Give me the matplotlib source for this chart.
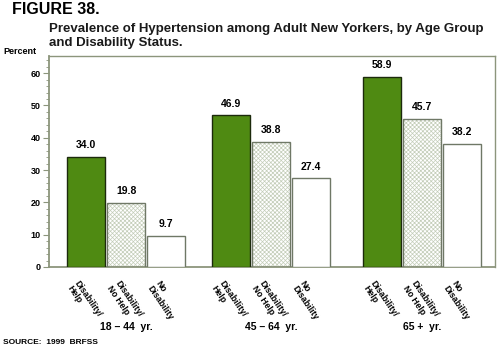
import matplotlib
matplotlib.use('Agg')
import matplotlib.pyplot as plt
from matplotlib.ticker import MultipleLocator
from matplotlib.transforms import blended_transform_factory

plt.rcParams['font.family'] = ['Liberation Sans', 'DejaVu Sans']
plt.rcParams['font.weight'] = 'bold'
plt.rcParams['hatch.linewidth'] = 0.5

groups = ['18 \u2013 44  yr.', '45 \u2013 64  yr.', '65 +  yr.']
categories = ['Disability/\nHelp', 'Disability/\nNo Help', 'No\nDisability']
help_vals = [34.0, 46.9, 58.9]
nohelp_vals = [19.8, 38.8, 45.7]
nodis_vals = [9.7, 27.4, 38.2]

GREEN = '#4f8a12'
HATCH = '#c3cdb8'
EDGE = '#6f7866'
SPINE = '#8c957c'

W, H = 500, 347
fig = plt.figure(figsize=(W / 100, H / 100), dpi=100)
ax = fig.add_axes([49 / W, 1 - 267 / H, (495 - 49) / W, (267 - 56) / H])

centers = [2.03, 5.84, 9.82]
step = 1.06
offsets = [-step, 0, step]
all_vals = [help_vals, nohelp_vals, nodis_vals]

for i, (vals, off) in enumerate(zip(all_vals, offsets)):
    xs = [c + off for c in centers]
    if i == 0:
        ax.bar(xs, vals, width=1.0, color=GREEN, edgecolor='#1c2a0c',
               linewidth=1.0, zorder=3)
    elif i == 1:
        ax.bar(xs, vals, width=1.0, color='white', edgecolor=HATCH,
               hatch='xxxxxxxx', linewidth=0, zorder=2)
        ax.bar(xs, vals, width=1.0, color='none', edgecolor=EDGE,
               linewidth=1.0, zorder=3)
    else:
        ax.bar(xs, vals, width=1.0, color='white', edgecolor=EDGE,
               linewidth=1.0, zorder=3)
    for x, v in zip(xs, vals):
        ax.annotate(f'{v:.1f}', (x, v), xytext=(0, 5), textcoords='offset points',
                    ha='center', va='bottom', fontsize=7.5, fontweight='bold')
        ax.text(x - 0.15, -0.055, categories[i], transform=ax.get_xaxis_transform(),
                rotation=-56, rotation_mode='anchor', ha='left', va='top',
                fontsize=6.3, fontweight='bold', linespacing=1.05)

grp_tr = blended_transform_factory(ax.transData, fig.transFigure)
for c, g in zip(centers, groups):
    ax.text(c, 1 - 330 / H, g, transform=grp_tr,
            ha='center', va='baseline', fontsize=7.5, fontweight='bold')

ax.set_xlim(0, (495 - 49) / 38)
ax.set_ylim(0, 65.3)
ax.set_xticks([])
ax.yaxis.set_major_locator(MultipleLocator(10))
ax.yaxis.set_minor_locator(MultipleLocator(2))
ax.set_yticks(range(0, 61, 10))
ax.tick_params(axis='y', which='major', length=4, width=0.8, color=SPINE,
               labelsize=6.5, pad=2)
ax.tick_params(axis='y', which='minor', length=2, width=0.6, color=SPINE)
for s in ax.spines.values():
    s.set_color(SPINE)
    s.set_linewidth(1.0)
ax.spines['left'].set_linewidth(1.3)
ax.spines['bottom'].set_linewidth(1.3)
for lab in ax.get_yticklabels():
    lab.set_fontweight('bold')

fig.text(12 / W, 1 - 14 / H, 'FIGURE 38.', fontsize=11.5, fontweight='bold',
         va='baseline')
fig.text(49 / W, 1 - 46 / H,
         'Prevalence of Hypertension among Adult New Yorkers, by Age Group\n'
         'and Disability Status.', fontsize=9.5, fontweight='bold',
         va='baseline', linespacing=1.2, color='#1a1a1a')
fig.text(3 / W, 1 - 54 / H, 'Percent', fontsize=6.5, fontweight='bold', va='baseline')
fig.text(3 / W, 1 - 344 / H, 'SOURCE:  1999  BRFSS', fontsize=6, fontweight='bold',
         va='baseline')

fig.savefig('out.png', dpi=100)
